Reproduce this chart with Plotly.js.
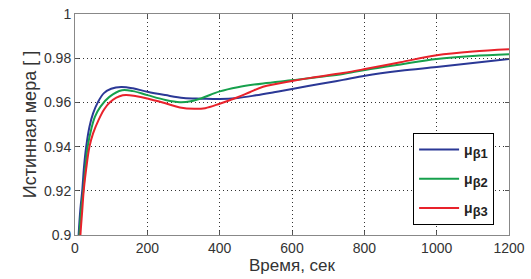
<!DOCTYPE html>
<html>
<head>
<meta charset="utf-8">
<script src="https://cdn.plot.ly/plotly-3.0.1.min.js"></script>
<style>html,body{margin:0;padding:0;background:#fff;}#chart{width:531px;height:279px;}</style>
</head>
<body>
<div id="chart"></div>
<script>
const seriesNames = ["μ<sub><span style='font-size:13px'>β1</span></sub>", "μ<sub><span style='font-size:13px'>β2</span></sub>", "μ<sub><span style='font-size:13px'>β3</span></sub>"];
const blueX = [8, 10, 15, 20, 25, 31, 40, 50, 63, 80, 100, 128, 160, 200, 250, 300, 350, 400, 450, 500, 550, 604, 680, 741, 802, 900, 1000, 1100, 1200];
const blueY = [0.893, 0.900, 0.912, 0.920, 0.931, 0.940, 0.949, 0.955, 0.960, 0.9642, 0.9662, 0.9670, 0.9664, 0.9648, 0.9633, 0.9620, 0.9617, 0.9615, 0.9620, 0.9632, 0.9646, 0.9662, 0.9684, 0.9702, 0.9721, 0.9743, 0.9760, 0.9778, 0.9796];
const greenX = [10, 12, 18, 23, 29, 35, 45, 55, 70, 95, 130, 160, 200, 250, 290, 320, 350, 400, 450, 520, 604, 680, 741, 802, 900, 1000, 1100, 1200];
const greenY = [0.893, 0.900, 0.913, 0.920, 0.931, 0.940, 0.948, 0.9535, 0.958, 0.9625, 0.9655, 0.9651, 0.9633, 0.9611, 0.9601, 0.9605, 0.9619, 0.9650, 0.9669, 0.9686, 0.9701, 0.9716, 0.9729, 0.9747, 0.9772, 0.9796, 0.9810, 0.9818];
const redX = [13, 15, 20, 24, 31, 40, 50, 65, 80, 96, 132, 170, 200, 250, 290, 330, 360, 400, 446, 483, 520, 604, 651, 741, 802, 900, 1000, 1100, 1200];
const redY = [0.893, 0.900, 0.911, 0.920, 0.930, 0.940, 0.946, 0.952, 0.9567, 0.960, 0.9632, 0.9628, 0.9618, 0.9596, 0.9577, 0.9571, 0.9574, 0.9594, 0.9621, 0.9646, 0.9671, 0.9698, 0.9711, 0.9733, 0.9751, 0.9782, 0.9813, 0.9830, 0.9840];
const xTicks = [0, 200, 400, 600, 800, 1000, 1200];
const yTicks = [0.9, 0.92, 0.94, 0.96, 0.98, 1];
const yTickText = ["0.9", "0.92", "0.94", "0.96", "0.98", "1"];
const colors = ["#2b3896", "#16a04c", "#e8222b"];

const xs = [blueX, greenX, redX];
const ys = [blueY, greenY, redY];
const traces = seriesNames.map((n, i) => ({
  x: xs[i], y: ys[i], type: "scatter", mode: "lines", name: "<b>" + n + "</b>",
  legendgroup: "g" + i,
  line: {color: colors[i], width: 2, shape: "spline", smoothing: 1}
}));

const axisCommon = {
  showline: true, linecolor: "#888", linewidth: 1, mirror: "ticks",
  ticks: "inside", ticklen: 4, tickcolor: "#555",
  showgrid: true, gridcolor: "#333", griddash: "1px,3px", gridwidth: 1,
  zeroline: false,
  tickfont: {family: "Liberation Sans, Arial, sans-serif", size: 14, color: "#333"}
};

const layout = {
  width: 531, height: 279,
  margin: {l: 75, r: 22, t: 14, b: 44},
  paper_bgcolor: "#fff", plot_bgcolor: "#fff",
  showlegend: true,
  xaxis: Object.assign({}, axisCommon, {
    range: [0, 1200], tickvals: xTicks, ticktext: xTicks.map(String),
    title: {text: "Время, сек", standoff: 0, font: {family: "Liberation Sans, Arial, sans-serif", size: 17, color: "#333"}}
  }),
  yaxis: Object.assign({}, axisCommon, {
    range: [0.9, 1], tickvals: yTicks, ticktext: yTickText,
    title: {text: "Истинная мера [ ]", standoff: 2, font: {family: "Liberation Sans, Arial, sans-serif", size: 18, color: "#333"}}
  }),
  legend: {
    x: 0.779, y: 0.4615, xanchor: "left", yanchor: "top",
    bgcolor: "#fff", bordercolor: "#000", borderwidth: 1,
    traceorder: "grouped", tracegroupgap: 8,
    itemwidth: 40,
    font: {family: "Liberation Sans, Arial, sans-serif", size: 14, color: "#222"}
  }
};

Plotly.newPlot("chart", traces, layout, {displayModeBar: false, staticPlot: true});
</script>
</body>
</html>
